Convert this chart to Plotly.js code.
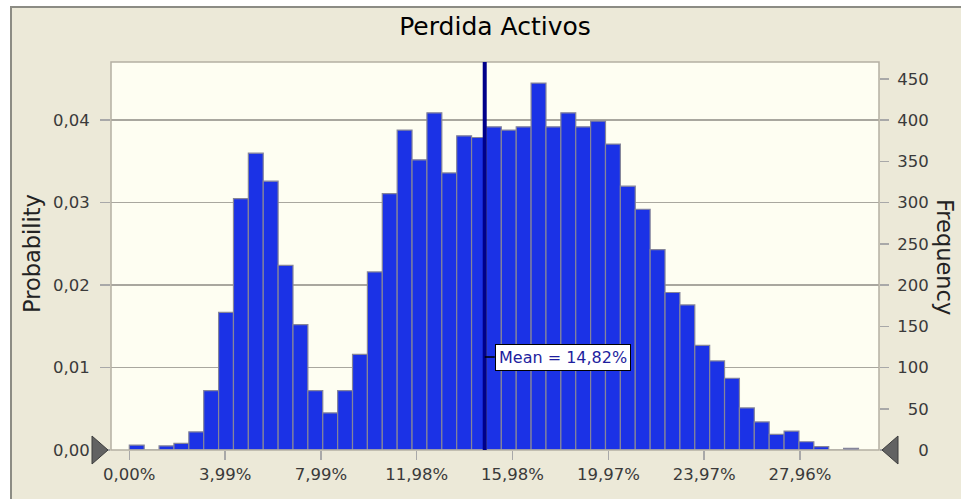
<!DOCTYPE html>
<html><head><meta charset="utf-8">
<script src="https://cdn.plot.ly/plotly-3.0.1.min.js"></script>
<style>html,body{margin:0;padding:0;background:#fff;} #chart{width:961px;height:499px;}</style>
</head><body><div id="chart"></div>
<script>
// Histogram of "Perdida Activos" (10 000 trials), frequency per bin
const frequency = [6, 0, 5, 8, 22, 72, 167, 305, 360, 326, 224, 152, 72, 45, 72, 116, 216, 311,
  388, 352, 409, 336, 381, 379, 392, 388, 392, 445, 392, 409, 392, 399, 371, 320, 292, 243,
  191, 176, 127, 108, 87, 51, 34, 19, 23, 10, 4, 0, 2];
const binStart = 0;        // % (left edge of first bin)
const binWidth = 0.6205;   // % per bin
const trials = 10000;
const meanValue = 14.82;
const meanLabel = "Mean = 14,82%";
const xTickVals = [0, 3.995, 7.99, 11.985, 15.98, 19.975, 23.97, 27.965];
const xTickText = ["0,00%", "3,99%", "7,99%", "11,98%", "15,98%", "19,97%", "23,97%", "27,96%"];
const probTickVals = [0, 0.01, 0.02, 0.03, 0.04];
const probTickText = ["0,00", "0,01", "0,02", "0,03", "0,04"];
const freqTickVals = [0, 50, 100, 150, 200, 250, 300, 350, 400, 450];
const freqTickText = ["\u2007\u20070", "\u200750", "100", "150", "200", "250", "300", "350", "400", "450"];

const xRange = [-0.763, 31.26];
const freqMax = 470.6;

const FONT = "DejaVu Sans, Verdana, sans-serif";
const tickFont = {family: FONT, size: 16.5, color: "#3a3a3a"};

// pixel helpers for decorations outside the plot area (paper coords)
const L = 111, R = 879, T = 62, B = 450;
const px = v => (v - L) / (R - L);
const py = v => (B - v) / (B - T);

const traces = [
  {
    type: "bar",
    x0: binStart + binWidth / 2,
    dx: binWidth,
    y: frequency,
    yaxis: "y2",
    marker: {color: "#1b32e6", line: {color: "#85859a", width: 1.2}},
    hoverinfo: "skip"
  },
  {
    type: "scatter", mode: "markers",
    x: [xRange[0]], y: [0], yaxis: "y",
    marker: {opacity: 0}, hoverinfo: "skip", showlegend: false
  }
];

const layout = {
  width: 961, height: 499,
  margin: {l: L, r: 961 - R, t: T, b: 499 - B, pad: 0},
  paper_bgcolor: "#ece9d8",
  plot_bgcolor: "#fefef2",
  showlegend: false,
  bargap: 0,
  title: {
    text: "Perdida Activos",
    font: {family: FONT, size: 25, color: "#000"},
    x: 0.5, xref: "paper", y: 1 - 26 / 499, yref: "container", yanchor: "middle"
  },
  xaxis: {
    range: xRange, tickmode: "array", tickvals: xTickVals, ticktext: xTickText,
    ticks: "outside", ticklen: 9, tickwidth: 1.5, tickcolor: "#a8a8a8",
    tickfont: tickFont, showgrid: false, zeroline: false, showline: false,
    fixedrange: true
  },
  yaxis: {
    range: [0, freqMax / trials], tickmode: "array", tickvals: probTickVals, ticktext: probTickText,
    ticks: "outside", ticklen: 10, tickwidth: 1.5, tickcolor: "#a8a8a8",
    tickfont: tickFont, showgrid: true, gridcolor: "#a9a79f", gridwidth: 1.6,
    zeroline: false, showline: false, ticklabelstandoff: 7, fixedrange: true
  },
  yaxis2: {
    overlaying: "y", side: "right",
    range: [0, freqMax], tickmode: "array", tickvals: freqTickVals, ticktext: freqTickText,
    ticks: "outside", ticklen: 9, tickwidth: 1.5, tickcolor: "#a8a8a8",
    tickfont: tickFont, showgrid: false, zeroline: false, showline: false,
    ticklabelstandoff: 5, fixedrange: true
  },
  shapes: [
    // plot frame
    {type: "rect", xref: "paper", yref: "paper", x0: 0, x1: 1, y0: 0, y1: 1,
     line: {color: "#b4b0a2", width: 1.5}, fillcolor: "rgba(0,0,0,0)", layer: "above"},
    // mean line
    {type: "line", xref: "x", yref: "paper", x0: meanValue, x1: meanValue, y0: 0, y1: 1,
     line: {color: "#00008a", width: 4}, layer: "above"},
    // connector to the mean label
    {type: "line", xref: "x", xsizemode: "pixel", xanchor: meanValue, x0: 0, x1: 10,
     yref: "paper", y0: py(357), y1: py(357), line: {color: "#000", width: 1.5}, layer: "above"},
    // white outer margin and window frame
    {type: "rect", xref: "paper", yref: "paper", x0: px(-5), x1: px(10), y0: py(510), y1: py(-5),
     line: {width: 0}, fillcolor: "#ffffff", layer: "above"},
    {type: "rect", xref: "paper", yref: "paper", x0: px(-5), x1: px(970), y0: py(6), y1: py(-5),
     line: {width: 0}, fillcolor: "#ffffff", layer: "above"},
    {type: "line", xref: "paper", yref: "paper", x0: px(11), x1: px(11), y0: py(6), y1: py(510),
     line: {color: "#8c8c84", width: 2}, layer: "above"},
    {type: "line", xref: "paper", yref: "paper", x0: px(10), x1: px(970), y0: py(7), y1: py(7),
     line: {color: "#8c8c84", width: 2}, layer: "above"},
    // slider triangles
    {type: "path", xref: "paper", yref: "paper", xsizemode: "pixel", ysizemode: "pixel",
     xanchor: 0, yanchor: 0, path: "M-19,14 L-3,0 L-19,-14 Z",
     fillcolor: "#626262", line: {color: "#3c3c3c", width: 1}, layer: "above"},
    {type: "path", xref: "paper", yref: "paper", xsizemode: "pixel", ysizemode: "pixel",
     xanchor: 1, yanchor: 0, path: "M19,14 L3,0 L19,-14 Z",
     fillcolor: "#626262", line: {color: "#3c3c3c", width: 1}, layer: "above"}
  ],
  annotations: [
    {text: meanLabel, xref: "x", x: meanValue, yref: "paper", y: py(357),
     xanchor: "left", yanchor: "middle", xshift: 10, showarrow: false,
     bgcolor: "#ffffff", bordercolor: "#000000", borderwidth: 1, borderpad: 3,
     font: {family: FONT, size: 16, color: "#1e1e9e"}},
    {text: "Probability", xref: "paper", yref: "paper", x: px(32), y: py(254),
     textangle: -90, showarrow: false, xanchor: "center", yanchor: "middle",
     font: {family: FONT, size: 22.5, color: "#222"}},
    {text: "Frequency", xref: "paper", yref: "paper", x: px(945), y: py(257),
     textangle: 90, showarrow: false, xanchor: "center", yanchor: "middle",
     font: {family: FONT, size: 22.5, color: "#222"}}
  ]
};

Plotly.newPlot("chart", traces, layout, {staticPlot: true, displayModeBar: false});
</script>
</body></html>
